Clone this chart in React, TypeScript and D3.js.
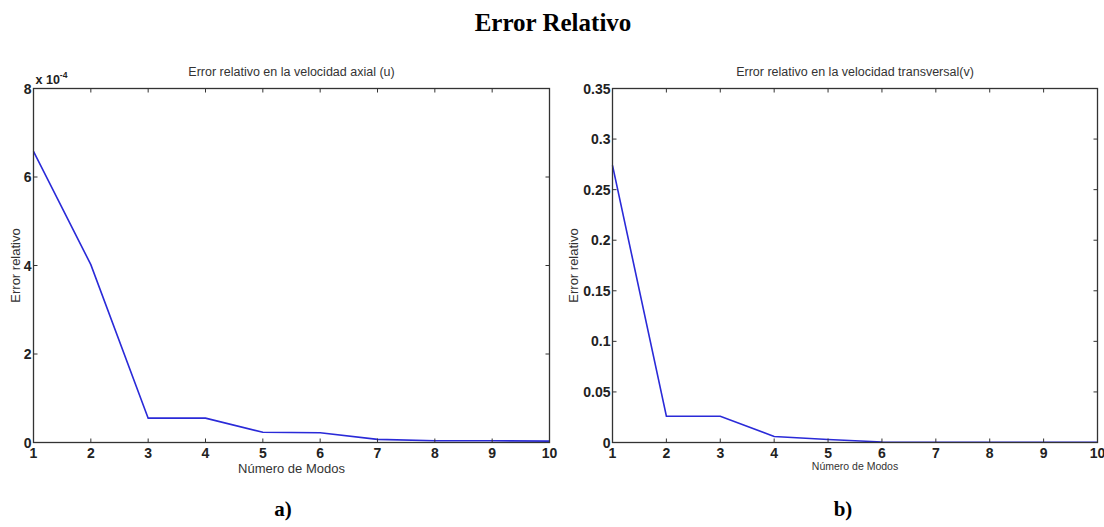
import React from 'react';
import * as d3 from 'd3';

// number of modes
const modes = [1, 2, 3, 4, 5, 6, 7, 8, 9, 10];

// relative error, axial velocity (u), in units of 1e-4
const errorU = [6.58, 4.02, 0.55, 0.55, 0.23, 0.22, 0.07, 0.04, 0.04, 0.03];
// relative error, transverse velocity (v)
const errorV = [0.274, 0.026, 0.026, 0.006, 0.003, 0.0005, 0.0002, 0.0002, 0.0002, 0.0002];

const ticksU = [0, 2, 4, 6, 8];
const ticksV = [0, 0.05, 0.1, 0.15, 0.2, 0.25, 0.3, 0.35];

const W = 1104;
const H = 527;
const sans = "Arial, 'Liberation Sans', sans-serif";
const serif = "'Times New Roman', 'Liberation Serif', serif";

type PanelProps = {
  left: number;
  right: number;
  values: number[];
  yMax: number;
  yTicks: number[];
  yFormat: (d: number) => string;
  title: string;
  xLabelSize: number;
  xLabelY: number;
  yLabelX: number;
  exponent?: boolean;
};

function Panel({ left, right, values, yMax, yTicks, yFormat, title, xLabelSize, xLabelY, yLabelX, exponent }: PanelProps) {
  const top = 88.5;
  const bottom = 442.5;
  const x = d3.scaleLinear().domain([1, 10]).range([left, right]);
  const y = d3.scaleLinear().domain([0, yMax]).range([bottom, top]);
  const line = d3.line<number>()
    .x((_, i) => x(modes[i]))
    .y((d) => y(d));
  const tk = 4;
  const mid = (left + right) / 2;

  return (
    <g>
      <text x={mid} y={76} textAnchor="middle" fontFamily={sans} fontSize={12.5} fill="#333">{title}</text>
      <path d={line(values) || ''} fill="none" stroke="#2a2ad8" strokeWidth={1.6} />
      <rect x={left} y={top} width={right - left} height={bottom - top} fill="none" stroke="#333" strokeWidth={1.3} />
      {modes.map((m) => (
        <g key={'x' + m}>
          <line x1={x(m)} x2={x(m)} y1={bottom} y2={bottom - tk} stroke="#333" />
          <line x1={x(m)} x2={x(m)} y1={top} y2={top + tk} stroke="#333" />
          <text x={x(m)} y={bottom + 15} textAnchor="middle" fontFamily={sans}
            fontWeight="bold" fontSize={14} fill="#222">{m}</text>
        </g>
      ))}
      {yTicks.map((t) => (
        <g key={'y' + t}>
          <line x1={left} x2={left + tk} y1={y(t)} y2={y(t)} stroke="#333" />
          <line x1={right} x2={right - tk} y1={y(t)} y2={y(t)} stroke="#333" />
          <text x={left - 2} y={y(t) + 5} textAnchor="end" fontFamily={sans}
            fontWeight="bold" fontSize={14} fill="#222">{yFormat(t)}</text>
        </g>
      ))}
      {exponent && (
        <text x={left + 2} y={top - 5} fontFamily={sans} fontSize={12.5} fontWeight="bold" fill="#222">
          x 10<tspan dy={-6} fontSize={8.5}>-4</tspan>
        </text>
      )}
      <text x={mid} y={xLabelY} textAnchor="middle" fontFamily={sans} fontSize={xLabelSize} fill="#333">Número de Modos</text>
      <text transform={`translate(${yLabelX},${(top + bottom) / 2}) rotate(-90)`} textAnchor="middle"
        fontFamily={sans} fontSize={13} fill="#333">Error relativo</text>
    </g>
  );
}

export default function App() {
  return (
    <svg width={W} height={H} style={{ position: 'absolute', left: 0, top: 0, background: '#fff' }}>
      <text x={553} y={31} textAnchor="middle" fontFamily={serif} fontWeight="bold" fontSize={25}>Error Relativo</text>
      <Panel left={33.5} right={549.5} values={errorU} yMax={8} yTicks={ticksU} yFormat={(d) => String(d)}
        title="Error relativo en la velocidad axial (u)" xLabelSize={13} xLabelY={473} yLabelX={20} exponent />
      <Panel left={612.5} right={1097.5} values={errorV} yMax={0.35} yTicks={ticksV}
        yFormat={(d) => (d === 0 ? '0' : String(+d.toFixed(2)))}
        title="Error relativo en la velocidad transversal(v)" xLabelSize={10.5} xLabelY={470} yLabelX={578} />
      <text x={283} y={516} textAnchor="middle" fontFamily={serif} fontWeight="bold" fontSize={21}>a)</text>
      <text x={843} y={516} textAnchor="middle" fontFamily={serif} fontWeight="bold" fontSize={21}>b)</text>
    </svg>
  );
}
